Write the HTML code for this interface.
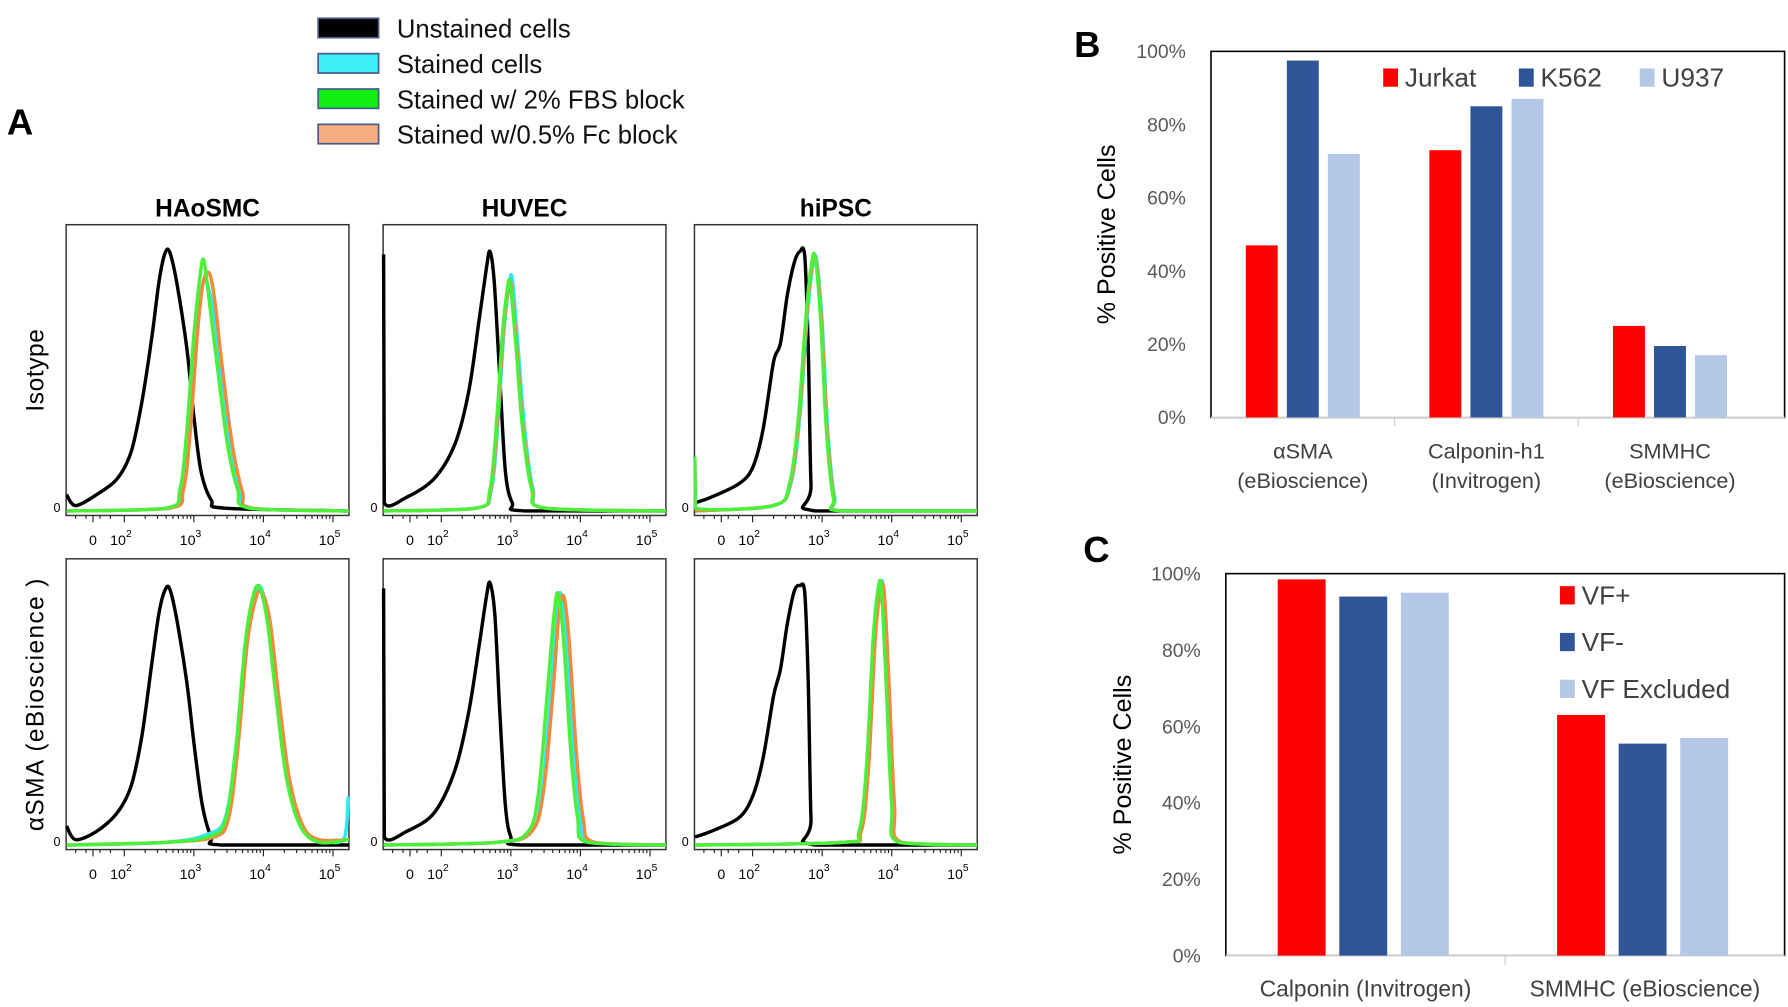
<!DOCTYPE html>
<html><head><meta charset="utf-8"><style>
html,body{margin:0;padding:0;background:#fff;}
svg{display:block;font-family:"Liberation Sans","DejaVu Sans",sans-serif;}
</style></head><body>
<svg id="fig" width="1788" height="1007" viewBox="0 0 1568 883" xmlns="http://www.w3.org/2000/svg">
<rect width="1568" height="883" fill="#fff"/>
<g font-size="22.5" fill="#111">
<rect x="279" y="16" width="53" height="17" fill="#000" stroke="#4a5a8a" stroke-width="1.5"/>
<text x="348" y="33">Unstained cells</text>
<rect x="279" y="47" width="53" height="17" fill="#3ff0fa" stroke="#4a5a8a" stroke-width="1.5"/>
<text x="348" y="64">Stained cells</text>
<rect x="279" y="78" width="53" height="17" fill="#11ee11" stroke="#4a5a8a" stroke-width="1.5"/>
<text x="348" y="95">Stained w/ 2% FBS block</text>
<rect x="279" y="109" width="53" height="17" fill="#f4ae80" stroke="#4a5a8a" stroke-width="1.5"/>
<text x="348" y="126">Stained w/0.5%  Fc block</text>
</g>
<text x="6" y="118" font-size="32" font-weight="bold">A</text>
<text x="942" y="50" font-size="32" font-weight="bold">B</text>
<text x="950" y="493" font-size="32" font-weight="bold">C</text>
<g id="histos"></g>
<g id="chartB"></g>
<g id="chartC"></g>
</svg>
<script>
const colTitles = ["HAoSMC","HUVEC","hiPSC"];
const rowTitles = ["Isotype","\u03b1SMA (eBioscience )"];
const xTickLabels = ["0","10^2","10^3","10^4","10^5"];
const xTickLogs = [1.55,2,3,4,5];
const iso_haosmc_black = [[1.16,0.06],[1.3,0.02],[1.6,0.06],[1.9,0.12],[2.1,0.22],[2.25,0.4],[2.4,0.65],[2.5,0.85],[2.58,0.95],[2.65,0.96],[2.75,0.85],[2.9,0.6],[3.0,0.35],[3.1,0.15],[3.25,0.04],[3.45,0.01],[5.23,0]];
const iso_haosmc_cyan = [[1.16,0],[2.6,0.01],[2.82,0.08],[2.92,0.3],[3.02,0.62],[3.1,0.8],[3.17,0.85],[3.27,0.75],[3.37,0.52],[3.52,0.22],[3.67,0.07],[3.82,0.01],[5.23,0]];
const iso_haosmc_green = [[1.16,0],[2.6,0.01],[2.8,0.08],[2.9,0.3],[3.0,0.65],[3.08,0.85],[3.14,0.93],[3.22,0.78],[3.33,0.55],[3.48,0.25],[3.63,0.08],[3.8,0.01],[5.23,0]];
const iso_haosmc_orange = [[1.16,0],[2.65,0.01],[2.85,0.08],[2.95,0.3],[3.05,0.65],[3.13,0.84],[3.22,0.88],[3.3,0.78],[3.4,0.55],[3.55,0.25],[3.7,0.07],[3.85,0.01],[5.23,0]];
const iso_huvec_black = [[1.17,0.95],[1.18,0.03],[1.5,0.05],[1.9,0.12],[2.2,0.25],[2.4,0.45],[2.55,0.72],[2.65,0.9],[2.7,0.96],[2.76,0.85],[2.84,0.5],[2.92,0.15],[3.02,0.03],[3.2,0],[5.23,0]];
const iso_huvec_cyan = [[1.16,0],[2.5,0.01],[2.72,0.08],[2.82,0.35],[2.9,0.66],[2.97,0.83],[3.02,0.86],[3.1,0.62],[3.2,0.3],[3.32,0.08],[3.5,0.01],[5.23,0]];
const iso_huvec_green = [[1.16,0],[2.5,0.01],[2.7,0.08],[2.8,0.35],[2.88,0.66],[2.95,0.82],[2.99,0.84],[3.07,0.62],[3.17,0.3],[3.3,0.08],[3.5,0.01],[5.23,0]];
const iso_huvec_orange = [[1.16,0],[2.5,0.01],[2.71,0.08],[2.81,0.35],[2.89,0.66],[2.96,0.82],[3.0,0.84],[3.08,0.62],[3.18,0.3],[3.31,0.08],[3.5,0.01],[5.23,0]];
const iso_hipsc_black = [[1.17,0.03],[1.4,0.05],[1.8,0.1],[2.0,0.16],[2.15,0.3],[2.3,0.55],[2.4,0.62],[2.5,0.8],[2.6,0.92],[2.68,0.96],[2.75,0.94],[2.8,0.6],[2.84,0.1],[2.9,0],[5.23,0]];
const iso_hipsc_cyan = [[1.16,0],[2.3,0.02],[2.55,0.1],[2.68,0.35],[2.78,0.7],[2.86,0.9],[2.92,0.93],[3.0,0.7],[3.08,0.3],[3.18,0.05],[3.3,0],[5.23,0]];
const iso_hipsc_green = [[1.17,0.2],[1.18,0.01],[2.3,0.02],[2.53,0.1],[2.66,0.35],[2.76,0.7],[2.84,0.9],[2.9,0.94],[2.98,0.7],[3.06,0.3],[3.16,0.05],[3.3,0],[5.23,0]];
const iso_hipsc_orange = [[1.16,0],[2.3,0.02],[2.54,0.1],[2.67,0.35],[2.77,0.7],[2.85,0.9],[2.91,0.93],[2.99,0.7],[3.07,0.3],[3.17,0.05],[3.3,0],[5.23,0]];
const sma_haosmc_black = [[1.16,0.07],[1.3,0.02],[1.6,0.05],[1.9,0.12],[2.1,0.22],[2.25,0.4],[2.4,0.68],[2.5,0.86],[2.58,0.94],[2.65,0.95],[2.75,0.84],[2.9,0.6],[3.0,0.38],[3.12,0.15],[3.25,0.03],[3.4,0],[5.23,0]];
const sma_haosmc_cyan = [[1.16,0],[2.6,0.01],[3.2,0.04],[3.45,0.1],[3.6,0.35],[3.75,0.75],[3.88,0.93],[3.97,0.95],[4.08,0.82],[4.2,0.55],[4.35,0.25],[4.55,0.07],[4.8,0.02],[5.15,0.02],[5.22,0.18]];
const sma_haosmc_green = [[1.16,0],[2.6,0.01],[3.2,0.03],[3.45,0.09],[3.6,0.35],[3.74,0.75],[3.86,0.93],[3.95,0.95],[4.06,0.82],[4.18,0.55],[4.33,0.25],[4.53,0.07],[4.8,0.01],[5.23,0.02]];
const sma_haosmc_orange = [[1.16,0],[2.6,0.01],[3.3,0.03],[3.5,0.1],[3.63,0.35],[3.77,0.75],[3.9,0.92],[3.99,0.93],[4.1,0.82],[4.22,0.55],[4.37,0.25],[4.57,0.07],[4.8,0.02],[5.23,0.02]];
const sma_huvec_black = [[1.17,0.95],[1.18,0.03],[1.5,0.05],[1.9,0.12],[2.2,0.28],[2.4,0.5],[2.55,0.75],[2.65,0.92],[2.7,0.97],[2.77,0.85],[2.84,0.5],[2.92,0.15],[3.0,0.03],[3.15,0],[5.23,0]];
const sma_huvec_cyan = [[1.16,0],[2.8,0.01],[3.3,0.05],[3.45,0.2],[3.57,0.55],[3.66,0.85],[3.72,0.93],[3.8,0.75],[3.9,0.35],[4.0,0.1],[4.15,0.01],[5.23,0]];
const sma_huvec_green = [[1.16,0],[2.8,0.01],[3.25,0.05],[3.4,0.2],[3.52,0.55],[3.62,0.85],[3.68,0.93],[3.76,0.75],[3.86,0.35],[3.96,0.1],[4.1,0.01],[5.23,0]];
const sma_huvec_orange = [[1.16,0],[2.8,0.01],[3.3,0.05],[3.47,0.2],[3.6,0.55],[3.69,0.85],[3.76,0.92],[3.84,0.75],[3.94,0.35],[4.04,0.1],[4.2,0.01],[5.23,0]];
const sma_hipsc_black = [[1.17,0.03],[1.4,0.05],[1.8,0.1],[2.0,0.18],[2.15,0.32],[2.3,0.55],[2.4,0.65],[2.5,0.82],[2.6,0.94],[2.68,0.96],[2.75,0.93],[2.8,0.6],[2.84,0.1],[2.9,0],[5.23,0]];
const sma_hipsc_cyan = [[1.16,0],[3.3,0.01],[3.55,0.05],[3.66,0.3],[3.75,0.75],[3.82,0.94],[3.88,0.95],[3.95,0.6],[4.03,0.15],[4.12,0.01],[5.23,0]];
const sma_hipsc_green = [[1.16,0],[3.3,0.01],[3.53,0.05],[3.64,0.3],[3.73,0.75],[3.8,0.94],[3.85,0.95],[3.92,0.6],[4.0,0.15],[4.1,0.01],[5.23,0]];
const sma_hipsc_orange = [[1.16,0],[3.3,0.01],[3.56,0.05],[3.67,0.3],[3.76,0.75],[3.83,0.93],[3.89,0.94],[3.96,0.6],[4.04,0.15],[4.14,0.01],[5.23,0]];
const panelCurves = [
 [[iso_haosmc_black,iso_haosmc_cyan,iso_haosmc_orange,iso_haosmc_green],[iso_huvec_black,iso_huvec_cyan,iso_huvec_orange,iso_huvec_green],[iso_hipsc_black,iso_hipsc_cyan,iso_hipsc_orange,iso_hipsc_green]],
 [[sma_haosmc_black,sma_haosmc_cyan,sma_haosmc_orange,sma_haosmc_green],[sma_huvec_black,sma_huvec_cyan,sma_huvec_orange,sma_huvec_green],[sma_hipsc_black,sma_hipsc_cyan,sma_hipsc_orange,sma_hipsc_green]]
];
const curveNames = ["unstained","stained","fc-block","fbs-block"];

const bCategories = [["\u03b1SMA","(eBioscience)"],["Calponin-h1","(Invitrogen)"],["SMMHC","(eBioscience)"]];
const bSeriesNames = ["Jurkat","K562","U937"];
const bJurkat = [47,73,25];
const bK562 = [97.5,85,19.5];
const bU937 = [72,87,17];
const yTicks = [0,20,40,60,80,100];

const cCategories = ["Calponin (Invitrogen)","SMMHC (eBioscience)"];
const cSeriesNames = ["VF+","VF-","VF Excluded"];
const cVFpos = [98.5,63];
const cVFneg = [94,55.5];
const cVFexcl = [95,57];

const NS="http://www.w3.org/2000/svg";
function mk(tag,attrs,parent){const e=document.createElementNS(NS,tag);for(const k in attrs)e.setAttribute(k,attrs[k]);parent.appendChild(e);return e;}
function smooth(P,ymax){
  let d=`M${P[0][0].toFixed(1)},${P[0][1].toFixed(1)}`;
  for(let i=0;i<P.length-1;i++){
    const p0=P[Math.max(0,i-1)],p1=P[i],p2=P[i+1],p3=P[Math.min(P.length-1,i+2)];
    const t=0.16;
    const c1=[p1[0]+(p2[0]-p0[0])*t,Math.min(ymax,p1[1]+(p2[1]-p0[1])*t)];
    const c2=[p2[0]-(p3[0]-p1[0])*t,Math.min(ymax,p2[1]-(p3[1]-p1[1])*t)];
    if(Math.abs(p2[0]-p1[0])<1.5){d+=` L${p2[0].toFixed(1)},${p2[1].toFixed(1)}`;continue;}
    d+=` C${c1[0].toFixed(1)},${c1[1].toFixed(1)} ${c2[0].toFixed(1)},${c2[1].toFixed(1)} ${p2[0].toFixed(1)},${p2[1].toFixed(1)}`;
  }
  return d;
}

const H=document.getElementById('histos');
const colX=[58,336,609], boxW=248;
const rowY=[197,490], boxH=255;
const curveColors=["#000","#30e8f5","#f08a3c","#4cf03a"];
colTitles.forEach((t,i)=>{
  const e=mk('text',{x:colX[i]+boxW/2,y:190,'text-anchor':'middle','font-size':21.5,'font-weight':'bold'},H);
  e.textContent=t;
  
  
});
rowTitles.forEach((t,r)=>{
  const cy=rowY[r]+boxH/2;
  const e=mk('text',{x:0,y:0,transform:`translate(38,${cy}) rotate(-90)`,'text-anchor':'middle','font-size':21.5,'letter-spacing':r?1.2:0.5},H);
  e.textContent=t;
  
  
});
function xl(L,l){return L+51+(l-2)*61;}
for(let r=0;r<2;r++)for(let c=0;c<3;c++){
  const L=colX[c],T=rowY[r],B=T+boxH, base=B-4, ph=boxH-18;
  const g=mk('g',{},H);
  
  
  const box=mk('rect',{x:L,y:T,width:boxW,height:boxH,fill:'none',stroke:'#333','stroke-width':1.3},g);
  
  
  const z=mk('text',{x:L-5,y:B-3,'text-anchor':'end','font-size':11},g);
  z.textContent='0';
  
  
  const tk=mk('path',{d:'',stroke:'#222','stroke-width':1,fill:'none'},g);
  
  
  let d='';
  for(let dec=2;dec<=5;dec++){
    for(let m=1;m<10;m++){const lv=dec+Math.log10(m); if(lv>5.23)break; const x=xl(L,lv); d+=`M${x},${B} v${m==1?6:3}`;}
  }
  [1.3,1.45,1.55,1.65,1.8].forEach(lv=>{const x=xl(L,lv);d+=`M${x},${B} v${lv==1.55?6:3}`;});
  tk.setAttribute('d',d);
  xTickLabels.forEach((t,i)=>{
    const x=xl(L,xTickLogs[i]);
    const tx=mk('text',{x:x-(i?3:0),y:B+26,'text-anchor':'middle','font-size':12.5},g);
    
    
    if(i==0){tx.textContent='0';}
    else{tx.textContent='10';const s=mk('tspan',{dy:-7,'font-size':9},tx);s.textContent=t.split('^')[1];}
  });
  panelCurves[r][c].forEach((pts,k)=>{
    const P=pts.map(q=>[xl(L,Math.max(1.17,q[0])),base-q[1]*ph]);
    const pe=mk('path',{d:smooth(P,base),fill:'none',stroke:curveColors[k],'stroke-width':3,'stroke-linejoin':'round'},g);
    
    
  });
}

function barChart(gid,box,cats,series,names,colors,opt){
  const g=document.getElementById(gid);
  
  
  const {L,T,R,B}=box;
  const y=v=>B-(v/100)*(B-T);
  const fr=mk('rect',{x:L,y:T,width:R-L,height:B-T,fill:'none',stroke:'#000','stroke-width':1.4},g);
  
  
  const ax=mk('line',{x1:L,y1:B,x2:R,y2:B,stroke:'#d0d0d0','stroke-width':1.5},g);
  
  
  yTicks.forEach(v=>{
    const t=mk('text',{x:L-22,y:y(v)+6,'text-anchor':'end','font-size':17,fill:'#595959'},g);
    t.textContent=v+'%';
    
    
  });
  const gw=opt.gw;
  for(let i=1;i<cats.length;i++){const tl=mk('line',{x1:L+gw*i,y1:B,x2:L+gw*i,y2:B+8,stroke:'#d0d0d0','stroke-width':1.2},g);
    
    }
  cats.forEach((c,i)=>{
    const cx=L+gw*(i+0.5);
    const lines=Array.isArray(c)?c:[c];
    lines.forEach((ln,j)=>{
      const t=mk('text',{x:cx,y:opt.catY+j*26,'text-anchor':'middle','font-size':opt.catFs,fill:'#404040'},g);
      t.textContent=ln;
      
      
    });
    series.forEach((s,k)=>{
      const bx=cx+(k-1)*opt.step-opt.bw/2+opt.shift;
      const r=mk('rect',{x:bx,y:y(s[i]),width:opt.bw,height:B-y(s[i]),fill:colors[k]},g);
      
      
    });
  });
  const yt=mk('text',{x:0,y:0,transform:`translate(${opt.titleX},${(T+B)/2}) rotate(-90)`,'text-anchor':'middle','font-size':22},g);
  yt.textContent='% Positive Cells';
  
  
  names.forEach((n,k)=>{
    const [lx,ly]=opt.legendPos[k];
    const sw=mk('rect',{x:lx,y:ly-8,width:13,height:16,fill:colors[k]},g);
    
    
    const t=mk('text',{x:lx+19,y:ly+8,'font-size':23,fill:'#404040'},g);
    t.textContent=n;
    
    
  });
}
const barColors=["#ff0000","#2f5597","#b4c7e7"];
barChart('chartB',{L:1062,T:45,R:1565,B:366},bCategories,[bJurkat,bK562,bU937],bSeriesNames,barColors,
  {name:'bar-chart-b',gw:161,bw:28,step:36,shift:0,catY:402,catFs:19,titleX:978,legendPos:[[1213,68],[1332,68],[1438,68]]});
barChart('chartC',{L:1075,T:503,R:1565,B:838},cCategories,[cVFpos,cVFneg,cVFexcl],cSeriesNames,barColors,
  {name:'bar-chart-c',gw:245,bw:42,step:54,shift:-2,catY:874,catFs:20,titleX:992,legendPos:[[1368,522],[1368,563],[1368,604]]});
</script>
</body></html>
